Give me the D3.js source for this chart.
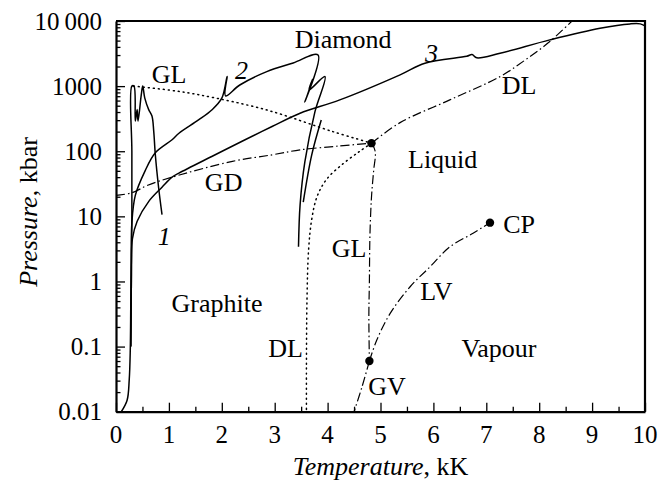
<!DOCTYPE html>
<html>
<head>
<meta charset="utf-8">
<script src="https://cdn.jsdelivr.net/npm/d3@7"></script>
</head>
<body style="margin:0">
<svg id="chart" width="672" height="482" style="font-family:'Liberation Serif'"></svg>
<script>
// ---- data (temperature in kK, pressure in kbar) ----
const xTicks = [0, 1, 2, 3, 4, 5, 6, 7, 8, 9, 10];
const yTicks = [0.01, 0.1, 1, 10, 100, 1000, 10000];
const yTickLabels = ["0.01", "0.1", "1", "10", "100", "1000", "10\u2009000"];

const curve1 = [[0.28,0.1],[0.29,1],[0.30,10],[0.30,100],[0.30,1000],[0.34,1000],[0.365,290],[0.40,436],[0.416,290],
  [0.478,741],[0.505,1000],[0.543,660],[0.618,436],[0.68,347],[0.713,204],[0.743,89],[0.807,27],[0.87,10.6]];
const curve2 = [[0.28,0.1],[0.29,1],[0.30,8],[0.365,21],[0.55,50],[0.74,94],[1.06,150],[1.19,189],[1.56,302],
  [1.81,430],[2.0,652],[2.10,1400],[2.07,708],[2.34,1040],[2.85,1670],[3.35,2270],[3.82,3010],[3.57,571],
  [3.72,1290],[3.65,873],[3.95,1400],[3.76,402],[3.57,68.5],[3.48,15],[3.45,3.4]];
const curve2b = [[3.88,302],[3.70,88],[3.54,16.6]];
const curve3 = [[0.1,0.01],[0.21,0.015],[0.25,0.031],[0.27,0.09],[0.28,0.5],[0.29,2],[0.31,4.5],[0.40,8.4],
  [0.62,17],[0.87,28],[1.06,40],[1.19,46],[1.81,83],[2.44,150],[2.95,240],[3.48,384],[4.23,614],[5.37,1490],
  [5.84,2250],[6.63,2880],[6.73,3050],[6.82,2720],[7.26,3200],[8.2,5130],[9.15,7750],[9.72,9030],[9.91,9030],[10.0,8400]];

const glUpper = [[0.33,1000],[1.0,870],[1.59,731],[2.85,430],[4.10,200],[4.83,133]];
const dlLower = [[4.83,133],[4.61,100],[4.3,65],[3.98,37],[3.8,20],[3.7,9],[3.64,3],[3.61,0.5],[3.6,0.05],[3.6,0.01]];
const gdLine = [[0,21],[0.3,23],[0.6,30],[1.06,40],[2.2,70],[2.95,88],[3.48,105],[4.2,120],[4.83,133]];
const glLine = [[4.83,133],[4.9,100],[4.87,50],[4.83,20],[4.8,5],[4.79,1],[4.78,0.3],[4.79,0.06]];
const gvLine = [[4.79,0.06],[4.65,0.024],[4.5,0.01]];
const lvLine = [[4.79,0.06],[4.93,0.126],[5.18,0.32],[5.56,0.83],[5.94,1.69],[6.31,3.4],[6.75,5.5],[7.07,8.0]];
const dlUpper = [[4.83,133],[5.37,275],[6.31,614],[7.26,1400],[7.73,2500],[8.2,4830],[8.62,10000]];

const points = [[4.83,133],[4.79,0.06],[7.07,8.0]];

const labels = [
  ["Diamond", 3.38, 3820, false],
  ["GL", 0.675, 1132, false],
  ["2", 2.25, 1288, true],
  ["3", 5.84, 2377, true],
  ["DL", 7.29, 751, false],
  ["Liquid", 5.52, 54.8, false],
  ["GD", 1.68, 24.8, false],
  ["1", 0.79, 3.64, true],
  ["CP", 7.32, 5.5, false],
  ["GL", 4.08, 2.40, false],
  ["LV", 5.75, 0.52, false],
  ["Graphite", 1.05, 0.34, false],
  ["DL", 2.88, 0.0686, false],
  ["Vapour", 6.53, 0.0686, false],
  ["GV", 4.77, 0.0181, false]
];

// ---- layout ----
const svg = d3.select("#chart");
const L = 116, R = 645, T = 21, B = 411.7;
const x = d3.scaleLinear().domain([0, 10]).range([L, R]);
const y = d3.scaleLog().domain([0.01, 10000]).range([B, T]);
const FS = 25, LFS = 26;

const clip = svg.append("defs").append("clipPath").attr("id", "clip");
clip.append("rect").attr("x", L).attr("y", T).attr("width", R - L).attr("height", B - T);

const line = d3.line().x(d => x(d[0])).y(d => y(d[1])).curve(d3.curveCatmullRom.alpha(0.5));
const plot = svg.append("g").attr("clip-path", "url(#clip)");

function draw(data, dash, w) {
  plot.append("path").datum(data).attr("d", line)
    .attr("fill", "none").attr("stroke", "#000").attr("stroke-width", w)
    .attr("stroke-dasharray", dash).attr("stroke-linecap", dash === "1,4" ? "round" : "butt")
    .attr("stroke-linejoin", "round");
}
[curve1, curve2, curve2b, curve3].forEach(c => draw(c, null, 1.5));
[glUpper, dlLower].forEach(c => draw(c, "1,4", 1.5));
[gdLine, glLine, gvLine, lvLine, dlUpper].forEach(c => draw(c, "9,3,1.5,3", 1.2));

plot.selectAll("circle.pt").data(points).join("circle")
  .attr("cx", d => x(d[0])).attr("cy", d => y(d[1])).attr("r", 4.2).attr("fill", "#000");

// ---- axes ----
const xAxis = d3.axisBottom(x).tickValues(d3.range(0, 10.01, 0.5)).tickSizeInner(-5).tickSizeOuter(0).tickFormat("");
const gx = svg.append("g").attr("transform", `translate(0,${B})`).call(xAxis);
gx.selectAll(".tick line").filter(d => Number.isInteger(d)).attr("y2", -9);

const minorY = [];
for (let e = -2; e < 4; e++) for (let k = 2; k <= 9; k++) minorY.push(k * Math.pow(10, e));
const yAxis = d3.axisLeft(y).tickValues(yTicks.concat(minorY)).tickSizeInner(-4.5).tickSizeOuter(0).tickFormat("");
const gy = svg.append("g").attr("transform", `translate(${L},0)`).call(yAxis);
gy.selectAll(".tick line").filter(d => yTicks.includes(d)).attr("x2", 9);

[gx, gy].forEach(g => {
  g.attr("font-family", null).attr("font-size", null);
  g.selectAll(".tick text").remove();
  g.select(".domain").attr("stroke-width", 2.2);
  g.selectAll(".tick line").attr("stroke-width", 1.3);
});
svg.append("path").attr("d", `M${L},${T}H${R}V${B}`).attr("fill", "none").attr("stroke", "#000").attr("stroke-width", 2.2);

const txt = svg.append("g");
function serif(sel) { return sel.attr("font-family", "Liberation Serif").style("font-family", "\"Liberation Serif\""); }

// tick labels
txt.append("g").selectAll("text").data(xTicks).join("text").call(serif)
  .attr("x", d => x(d)).attr("y", 442.5).attr("text-anchor", "middle")
  .attr("font-size", FS).text(d => d);
txt.append("g").selectAll("text").data(yTicks).join("text").call(serif)
  .attr("x", 102).attr("y", d => y(d) + 8.5).attr("text-anchor", "end")
  .attr("font-size", FS).text((d, i) => yTickLabels[i]);

// axis titles
const xt = txt.append("text").call(serif).attr("x", (L + R) / 2).attr("y", 475).attr("text-anchor", "middle").attr("font-size", 26);
xt.append("tspan").attr("font-style", "italic").text("Temperature");
xt.append("tspan").text(", kK");
const yt = txt.append("text").call(serif).attr("transform", "translate(36.5,212) rotate(-90)").attr("text-anchor", "middle").attr("font-size", 26);
yt.append("tspan").attr("font-style", "italic").text("Pressure");
yt.append("tspan").text(", kbar");

// region labels
txt.append("g").selectAll("text").data(labels).join("text").call(serif)
  .attr("x", d => x(d[1])).attr("y", d => y(d[2]))
  .attr("font-size", LFS).attr("font-style", d => d[3] ? "italic" : "normal")
  .text(d => d[0]);
</script>
</body>
</html>
